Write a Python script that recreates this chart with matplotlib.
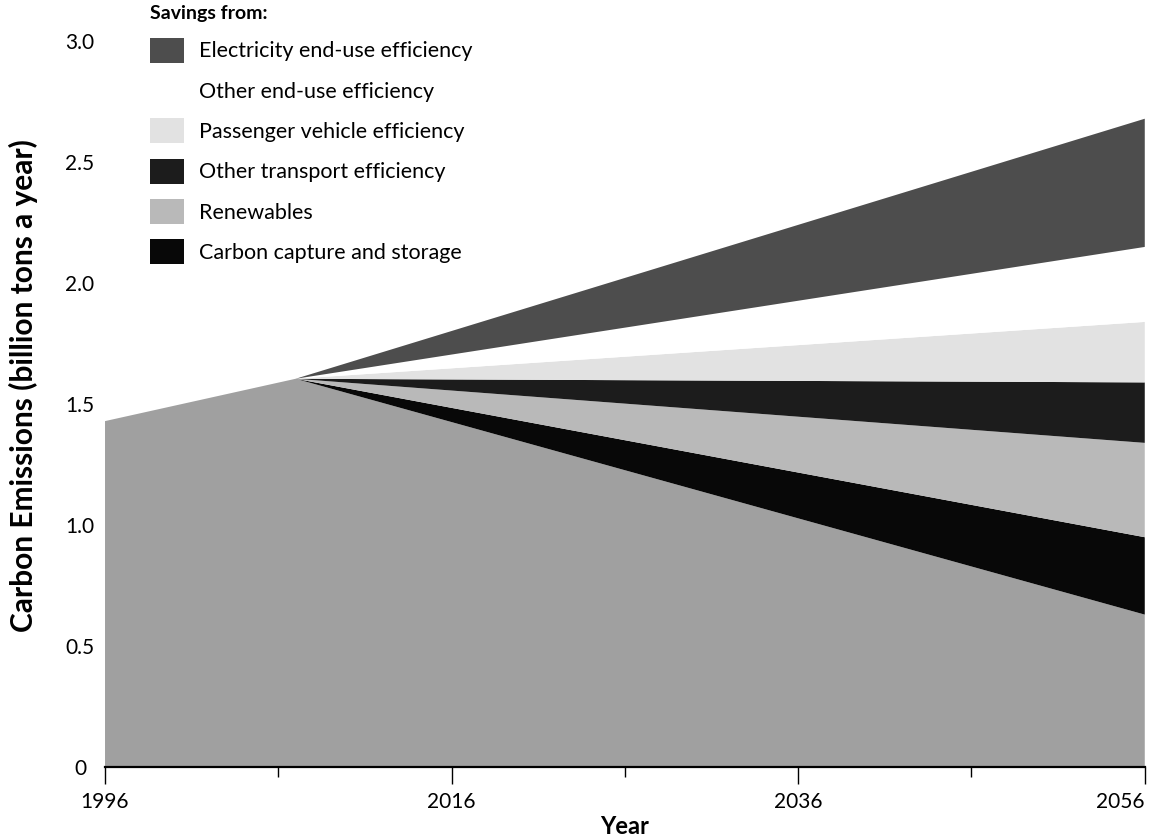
import numpy as np
import matplotlib
matplotlib.use("Agg")
import matplotlib.pyplot as plt
from matplotlib.patches import Patch

plt.rcParams['font.family'] = ['Lato', 'DejaVu Sans']

#%% data (billion tons of carbon a year)
years = [1996, 2007, 2056]
remaining = [1.43, 1.605, 0.63]          # emissions left after all wedges
carbon_capture = [0.0, 0.0, 0.32]
renewables = [0.0, 0.0, 0.39]
other_transport = [0.0, 0.0, 0.25]
passenger_vehicle = [0.0, 0.0, 0.25]
other_end_use = [0.0, 0.0, 0.31]
electricity_end_use = [0.0, 0.0, 0.53]

wedge_names = ["Electricity end-use efficiency", "Other end-use efficiency",
               "Passenger vehicle efficiency", "Other transport efficiency",
               "Renewables", "Carbon capture and storage"]
wedge_colors = ["#4d4d4d", "#ffffff", "#e2e2e2", "#1c1c1c", "#b9b9b9", "#080808"]
base_color = "#a0a0a0"

x_ticks = [1996, 2016, 2036, 2056]
x_minor = [2006, 2026, 2046]
y_ticks = [0, 0.5, 1.0, 1.5, 2.0, 2.5, 3.0]
y_ticklabels = ["0", "0.5", "1.0", "1.5", "2.0", "2.5", "3.0"]

#%% figure
fig = plt.figure(figsize=(11.54, 8.38), dpi=100)
ax = fig.add_axes([0.091, 0.0847, 0.901, 0.866])

# stacked from the bottom up: remaining emissions, then the wedges
layers = [remaining, carbon_capture, renewables, other_transport,
          passenger_vehicle, other_end_use, electricity_end_use]
colors = [base_color] + wedge_colors[::-1]
ax.stackplot(years, *layers, colors=colors, linewidth=0, edgecolor='none')

ax.set_xlim(1996, 2056)
ax.set_ylim(0, 3.0)

for side in ['top', 'right', 'left']:
    ax.spines[side].set_visible(False)
ax.spines['bottom'].set_linewidth(1.6)
ax.spines['bottom'].set_color('black')

ax.set_xticks(x_ticks)
ax.set_xticks(x_minor, minor=True)
ax.set_xticklabels([str(t) for t in x_ticks], fontsize=15)
ax.tick_params(axis='x', which='major', direction='out', length=12, width=1.0, pad=6)
ax.tick_params(axis='x', which='minor', direction='out', length=7, width=1.0)
# last year label sits inside the figure edge
ax.get_xticklabels()[-1].set_horizontalalignment('right')
ax.get_xticklabels()[-1].set_x(2056.3)

ax.set_yticks(y_ticks)
ax.set_yticklabels(y_ticklabels, fontsize=15)
ax.tick_params(axis='y', length=0, pad=18)
for lab in ax.get_yticklabels():
    lab.set_horizontalalignment('center')

ax.set_xlabel("Year", fontsize=17, fontweight='bold', labelpad=2)
ax.set_ylabel("Carbon Emissions (billion tons a year)", fontsize=21.5,
              fontweight='bold', labelpad=2)
ax.yaxis.set_label_coords(-0.064, 0.525)

#%% legend
handles = [Patch(facecolor=c, edgecolor='none') for c in wedge_colors]
leg = fig.legend(handles, wedge_names, loc='upper left',
                 bbox_to_anchor=(0.126, 0.999), frameon=False,
                 fontsize=15.5, handlelength=1.6, handleheight=1.4,
                 handletextpad=0.7, labelspacing=0.72, borderpad=0.2,
                 borderaxespad=0, title="Savings from:",
                 title_fontproperties={'weight': 'bold', 'size': 14},
                 alignment='left')

fig.savefig("out.png", dpi=100)
